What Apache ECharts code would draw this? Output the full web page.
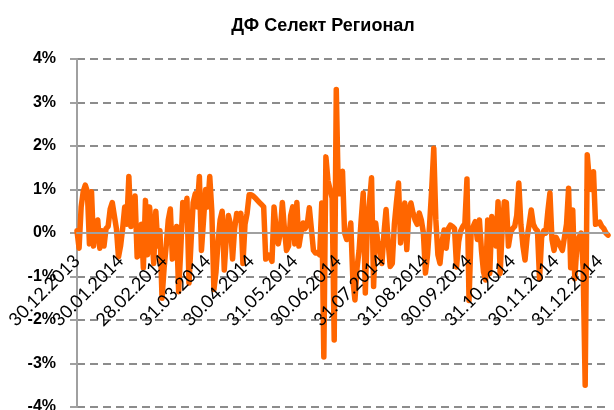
<!DOCTYPE html>
<html>
<head>
<meta charset="utf-8">
<script src="https://cdn.jsdelivr.net/npm/echarts@6/dist/echarts.min.js"></script>
<style>
  html, body { margin: 0; padding: 0; background: #fff; }
  #main { width: 614px; height: 410px; }
</style>
</head>
<body>
<div id="main"></div>
<script>
var chartTitle = "ДФ Селект Регионал";

// month-end tick labels, one every 21 trading days
var monthLabels = [
    "30.12.2013", "30.01.2014", "28.02.2014", "31.03.2014", "30.04.2014",
    "31.05.2014", "30.06.2014", "31.07.2014", "31.08.2014", "30.09.2014",
    "31.10.2014", "30.11.2014", "31.12.2014"
];
var labelStep = 21;

// daily change, %
var dailyChange = [
    // Jan
    0.05, -0.35, 0.6, 0.95, 1.1, 0.95, -0.25, 0.95, -0.3, 0.15, 0.3,
    -0.35, 0.05, -0.3, 0.1, 0.15, 0.55, 0.7, 0.4, 0.1, -0.55,
    // Feb
    -0.3, 0.1, 0.6, 0.2, 1.3, 0.15, 0.4, 0.85, -0.55, -0.5, 0.2,
    -0.8, 0.75, -0.5, 0.6, 0.0, -0.7, 0.5, -0.3, 0.05, -1.5,
    // Mar
    -0.8, -0.3, 0.3, 0.55, -0.6, -0.1, 0.15, -1.35, -0.4, 0.7, 0.3,
    0.8, -1.15, -0.2, 0.7, 0.9, 0.6, 1.3, -0.4, 0.3, 1.0,
    // Apr
    0.6, 1.3, 0.5, -1.3, -0.9, -0.2, 0.3, 0.5, -0.85, -0.1, 0.4,
    0.2, -0.6, 0.1, 0.45, 0.3, 0.45, -0.7, 0.2, 0.45, 0.88,
    // May
    0.88, 0.85, 0.8, 0.75, 0.7, 0.65, 0.6, -0.6, -0.5, -0.55, -0.65,
    0.6, 0.1, -0.25, 0.0, 0.7, 0.1, -0.4, -0.3, 0.4, 0.6,
    // Jun
    -0.25, 0.7, -0.3, 0.0, 0.23, 0.1, 0.2, 0.58, 0.1, -0.4, -0.46,
    -0.45, -0.5, 0.69, -2.85, 1.75, 1.2, 1.0, 0.8, -2.46, 3.3,
    // Jul
    0.9, 0.9, 1.42, 0.0, -0.15, -0.1, 0.23, -1.08, -1.54, -0.8, -0.4,
    0.3, 0.92, -1.38, 0.2, 0.7, 1.27, -1.23, 0.23, -0.2, -0.4,
    // Aug
    -0.7, 0.0, 0.54, -0.2, -0.77, -0.7, 0.2, 0.7, 1.15, -0.23, 0.2,
    0.69, -0.38, 0.5, 0.69, 0.46, 0.3, 0.2, 0.46, 0.3, 0.0,
    // Sep
    -0.92, -0.5, 0.2, 1.0, 1.95, 0.3, -0.5, -0.7, -0.2, 0.07, -0.35,
    0.1, 0.18, 0.15, 0.1, -0.78, -0.2, 0.05, 0.15, 0.22, 1.24,
    // Oct
    -1.55, 0.0, 0.15, 0.26, -0.15, 0.3, -0.4, -0.9, -1.08, 0.3, -0.93,
    0.38, -0.1, -0.3, 0.72, -0.93, 0.1, 0.72, 0.7, -0.3, 0.0,
    // Nov
    0.1, 0.15, 0.4, 1.15, 0.2, -0.3, -0.62, -0.1, 0.2, 0.53, 0.2,
    0.1, 0.05, -1.05, -0.1, 0.05, 0.0, 0.5, 0.92, -0.15, -0.4,
    // Dec
    -0.1, -0.2, -0.3, -0.4, -0.1, 0.2, 1.03, -0.8, 0.53, -1.05, -0.3,
    -0.1, 0.0, -0.8, -3.5, 1.8, 1.2, 1.0, 1.41, 0.2, 0.22,
    0.25, 0.15, 0.1, 0.0, -0.05
];

var days = dailyChange.map(function (v, i) { return i; });

var myChart = echarts.init(document.getElementById("main"), null, { renderer: "canvas" });
var option;

option = {
    animation: false,
    backgroundColor: "#ffffff",
    title: {
        text: chartTitle,
        left: 318,
        textAlign: "center",
        top: 12,
        textStyle: {
            fontFamily: "Liberation Sans",
            fontWeight: "bold",
            fontSize: 18,
            color: "#000",
        },
    },
    grid: {
        left: 77,
        right: 6,
        top: 59,
        bottom: 3,
        containLabel: false,
        outerBoundsMode: "none",
    },
    xAxis: {
        type: "category",
        boundaryGap: false,
        data: days,
        // put the axis (line + labels) at the 0% level
        offset: -174,
        z: 5,
        axisLine: {
            onZero: false,
            lineStyle: { color: "#a0a0a0", width: 2 },
        },
        axisTick: { show: false },
        axisLabel: {
            rotate: 45,
            margin: 25,
            interval: function (i) {
                return i % labelStep === 0 && i / labelStep < monthLabels.length;
            },
            formatter: function (v, i) {
                return monthLabels[i / labelStep] || "";
            },
            fontFamily: "Lato",
            fontSize: 18,
            color: "#000",
        },
        splitLine: { show: false },
    },
    yAxis: {
        type: "value",
        min: -4,
        max: 4,
        interval: 1,
        axisLine: {
            show: true,
            lineStyle: { color: "#a0a0a0", width: 2 },
        },
        axisTick: {
            show: true,
            length: 7,
            lineStyle: { color: "#a0a0a0", width: 2 },
        },
        axisLabel: {
            margin: 21,
            formatter: "{value}%",
            fontFamily: "Liberation Sans",
            fontWeight: "bold",
            fontSize: 16,
            color: "#000",
        },
        splitLine: {
            show: true,
            lineStyle: { color: "#8c8c8c", width: 2, type: [8, 5] },
        },
    },
    series: [
        {
            name: chartTitle,
            type: "line",
            data: dailyChange,
            showSymbol: false,
            symbol: "none",
            lineStyle: {
                color: "#ff6600",
                width: 5.5,
                cap: "round",
                join: "round",
            },
            itemStyle: { color: "#ff6600" },
            z: 3,
        },
    ],
};
option && myChart.setOption(option);
</script>
</body>
</html>
